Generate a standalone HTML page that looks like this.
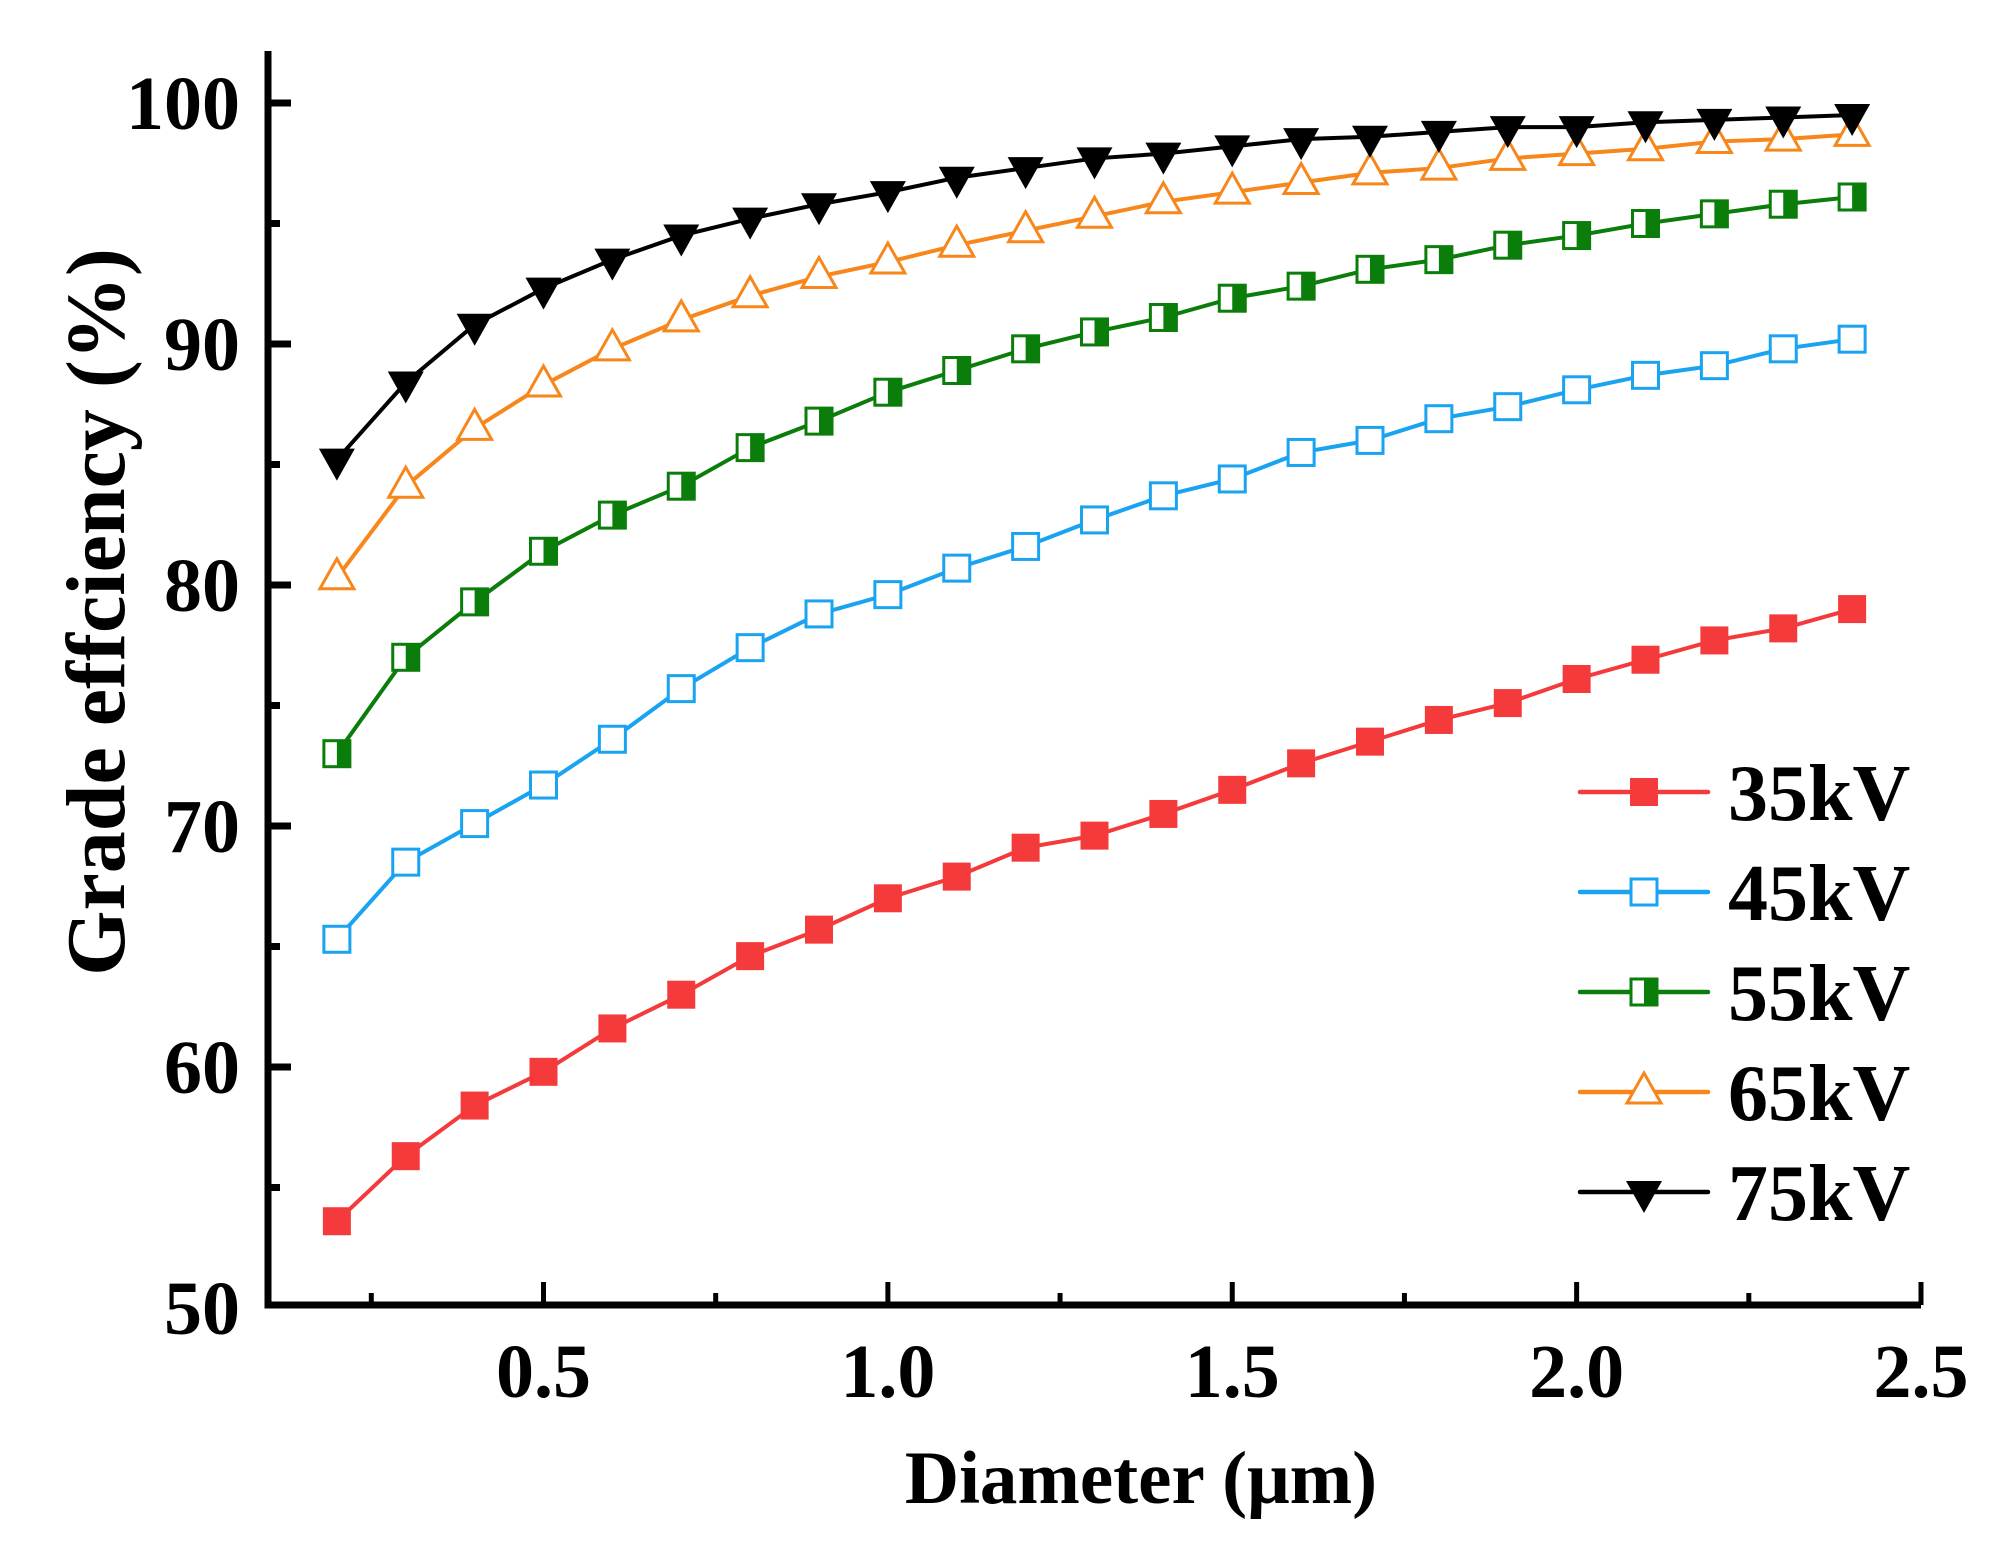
<!DOCTYPE html>
<html><head><meta charset="utf-8">
<style>
html,body{margin:0;padding:0;background:#fff;}
svg{display:block;font-family:"Liberation Serif",serif;font-weight:bold;}
</style></head>
<body>
<svg id="chart" width="2000" height="1552" viewBox="0 0 2000 1552" xmlns="http://www.w3.org/2000/svg">
<g id="axes"></g>
<g id="series"></g>
<g id="legend"></g>
<text x="1141" y="1503" font-size="75" text-anchor="middle">Diameter (μm)</text>
<text transform="translate(124,612) rotate(-90)" font-size="84" text-anchor="middle">Grade effciency (%)</text>
</svg>
<script>
const xValues = [0.2,0.3,0.4,0.5,0.6,0.7,0.8,0.9,1.0,1.1,1.2,1.3,1.4,1.5,1.6,1.7,1.8,1.9,2.0,2.1,2.2,2.3,2.4];
const s35 = [53.6,56.3,58.4,59.8,61.6,63.0,64.6,65.7,67.0,67.9,69.1,69.6,70.5,71.5,72.6,73.5,74.4,75.1,76.1,76.9,77.7,78.2,79.0];
const s45 = [65.3,68.5,70.1,71.7,73.6,75.7,77.4,78.8,79.6,80.7,81.6,82.7,83.7,84.4,85.5,86.0,86.9,87.4,88.1,88.7,89.1,89.8,90.2];
const s55 = [73.0,77.0,79.3,81.4,82.9,84.1,85.7,86.8,88.0,88.9,89.8,90.5,91.1,91.9,92.4,93.1,93.5,94.1,94.5,95.0,95.4,95.8,96.1];
const s65 = [80.3,84.1,86.5,88.3,89.8,91.0,92.0,92.8,93.4,94.1,94.7,95.3,95.9,96.3,96.7,97.1,97.3,97.7,97.9,98.1,98.4,98.5,98.7];
const s75 = [85.2,88.4,90.8,92.3,93.5,94.5,95.2,95.8,96.3,96.9,97.3,97.7,97.9,98.2,98.5,98.6,98.8,99.0,99.0,99.2,99.3,99.4,99.5];
const seriesNames = ["35kV","45kV","55kV","65kV","75kV"];
const xTicks = [0.5,1.0,1.5,2.0,2.5];
const xTickLabels = ["0.5","1.0","1.5","2.0","2.5"];
const xMinor = [0.25,0.75,1.25,1.75,2.25];
const yTicks = [50,60,70,80,90,100];
const yTickLabels = ["50","60","70","80","90","100"];
const yMinor = [55,65,75,85,95];

const NS="http://www.w3.org/2000/svg";
const X0=268,X1=1921,Y0=1305,YT=51;
const xS=v=>X0+(v-0.1)*(X1-X0)/2.4;
const yS=v=>1308-(v-50)*24.1;
function mk(tag,attrs,parent){const e=document.createElementNS(NS,tag);for(const k in attrs)e.setAttribute(k,attrs[k]);parent.appendChild(e);return e;}
const axes=document.getElementById('axes'),ser=document.getElementById('series'),leg=document.getElementById('legend');

let a=mk('path',{d:`M${X0},${YT} V${Y0} H${X1}`,fill:'none',stroke:'#000','stroke-width':7},axes);


xTicks.forEach((v,i)=>{
 const t=mk('line',{x1:xS(v),x2:xS(v),y1:Y0,y2:Y0-23,stroke:'#000','stroke-width':5},axes);
 
 
 const l=mk('text',{x:xS(v),y:1397,'font-size':76,'text-anchor':'middle'},axes);l.textContent=xTickLabels[i];
 
 
});
xMinor.forEach(v=>{
 const t=mk('line',{x1:xS(v),x2:xS(v),y1:Y0,y2:Y0-12,stroke:'#000','stroke-width':5},axes);
 
 
});
yTicks.forEach((v,i)=>{
 if(v>50){const t=mk('line',{x1:X0,x2:X0+23,y1:yS(v),y2:yS(v),stroke:'#000','stroke-width':7},axes);
 
 }
 const l=mk('text',{x:X0-28,y:yS(v)+26,'font-size':76,'text-anchor':'end'},axes);l.textContent=yTickLabels[i];
 
 
});
yMinor.forEach(v=>{
 const t=mk('line',{x1:X0,x2:X0+12,y1:yS(v),y2:yS(v),stroke:'#000','stroke-width':7},axes);
 
 
});

const colors=['#f43a3a','#1aa3f0','#0a7d0a','#f7861b','#000'];
const data=[s35,s45,s55,s65,s75];
function marker(kind,cx,cy,col,g){
 let e;
 if(kind===0) e=mk('rect',{x:cx-14,y:cy-14,width:28,height:28,fill:col},g);
 else if(kind===1) e=mk('rect',{x:cx-13,y:cy-13,width:26,height:26,fill:'#fff',stroke:col,'stroke-width':3},g);
 else if(kind===2){e=mk('rect',{x:cx-13,y:cy-13,width:26,height:26,fill:'#fff',stroke:col,'stroke-width':3},g);
  mk('rect',{x:cx,y:cy-13,width:13,height:26,fill:col},g);}
 else if(kind===3) e=mk('path',{d:`M${cx},${cy-19} L${cx+17},${cy+11} L${cx-17},${cy+11} Z`,fill:'#fff',stroke:col,'stroke-width':3},g);
 else e=mk('path',{d:`M${cx-18},${cy-11} L${cx+18},${cy-11} L${cx},${cy+21} Z`,fill:col},g);
 return e;
}
data.forEach((arr,si)=>{
 const g=mk('g',{},ser);
 
 
 const p=mk('polyline',{points:arr.map((v,i)=>xS(xValues[i])+','+yS(v)).join(' '),fill:'none',stroke:colors[si],'stroke-width':4},g);
 
 
 arr.forEach((v,i)=>{
  const m=marker(si,xS(xValues[i]),yS(v),colors[si],g);
  
  
 });
 const ly=792+si*100;
 const lg=mk('g',{},leg);
 
 
 mk('line',{x1:1580,x2:1708,y1:ly,y2:ly,stroke:colors[si],'stroke-width':4.5,'stroke-linecap':'round'},lg);
 marker(si,1644,ly,colors[si],lg);
 const t=mk('text',{x:1728,y:ly+28,'font-size':80},lg);t.textContent=seriesNames[si];
});
</script>
</body></html>
